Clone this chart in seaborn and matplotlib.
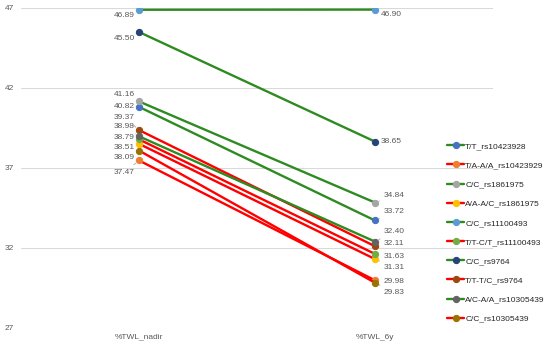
import matplotlib
matplotlib.use('Agg')
import matplotlib.pyplot as plt
import seaborn as sns
import pandas as pd

# data
timepoints = ['%TWL_nadir', '%TWL_6y']
genotypes = ['T/T_rs10423928', 'T/A-A/A_rs10423929', 'C/C_rs1861975', 'A/A-A/C_rs1861975',
             'C/C_rs11100493', 'T/T-C/T_rs11100493', 'C/C_rs9764', 'T/T-T/C_rs9764',
             'A/C-A/A_rs10305439', 'C/C_rs10305439']
twl_nadir = [40.82, 37.47, 41.16, 38.51, 46.89, 38.79, 45.50, 39.37, 38.98, 38.09]
twl_6y = [33.72, 29.98, 34.84, 31.31, 46.90, 31.63, 38.65, 32.11, 32.40, 29.83]

# styling
green, red = '#2E8B22', '#FF0000'
line_colors = [green, red] * 5
marker_colors = ['#4472C4', '#ED7D31', '#A5A5A5', '#FFC000', '#5B9BD5',
                 '#70AD47', '#264478', '#9E480E', '#636363', '#997300']
# label nudges in pixels (Excel-like placement)
left_dy = [0, -12, 7, -4, -6, 2, -6, 13, 10, -7]
right_dy = [9, -1, 7, -8, -5, -3, 0, 3, 10, -10]
right_dx = [9, 9, 9, 9, 6, 9, 6, 9, 9, 9]

sns.set_style('white')
plt.rcParams['font.family'] = ['Liberation Sans', 'DejaVu Sans']
txt = '#595959'

fig = plt.figure(figsize=(5.5, 3.47), dpi=100)
ax = fig.add_axes([21 / 550, 1 - 328 / 347, 472 / 550, 320 / 347])

for i, g in enumerate(genotypes):
    df = pd.DataFrame({'time': timepoints, 'twl': [twl_nadir[i], twl_6y[i]]})
    sns.lineplot(data=df, x='time', y='twl', ax=ax, color=line_colors[i], lw=1.7,
                 marker='o', markersize=4.5, markerfacecolor=marker_colors[i],
                 markeredgecolor=marker_colors[i], label=g, zorder=3 + i)

    for x, v, dx, dy, ha in [(0, twl_nadir[i], -4, left_dy[i], 'right'),
                             (1, twl_6y[i], right_dx[i], right_dy[i], 'left')]:
        arrow = None
        if abs(dy) >= 7:
            arrow = dict(arrowstyle='-', color='#A6A6A6', lw=0.6, shrinkA=1, shrinkB=3)
        ax.annotate(f'{v:.2f}', xy=(x, v), xytext=(dx, dy), textcoords='offset pixels',
                    ha=ha, va='center', fontsize=6, color=txt, arrowprops=arrow)

ax.set_xlim(-0.5, 1.5)
ax.set_ylim(27, 47)
ax.set_yticks([27, 32, 37, 42, 47])
ax.grid(axis='y', color='#D9D9D9', lw=0.75)
ax.set_axisbelow(True)
ax.set_xlabel('')
ax.set_ylabel('')
sns.despine(ax=ax, left=True, bottom=True)
ax.tick_params(axis='both', length=0, labelsize=6, labelcolor=txt)
ax.tick_params(axis='y', pad=5)
ax.tick_params(axis='x', pad=4)

ax.get_legend().remove()
handles, labels = ax.get_legend_handles_labels()
fig.legend(handles, labels, loc='upper left', bbox_to_anchor=(444 / 550, 1 - 139 / 347),
           frameon=False, fontsize=6, labelcolor='#262626', handlelength=2.0,
           handletextpad=0.15, labelspacing=1.36, borderaxespad=0)

fig.savefig('out.png', dpi=100)
